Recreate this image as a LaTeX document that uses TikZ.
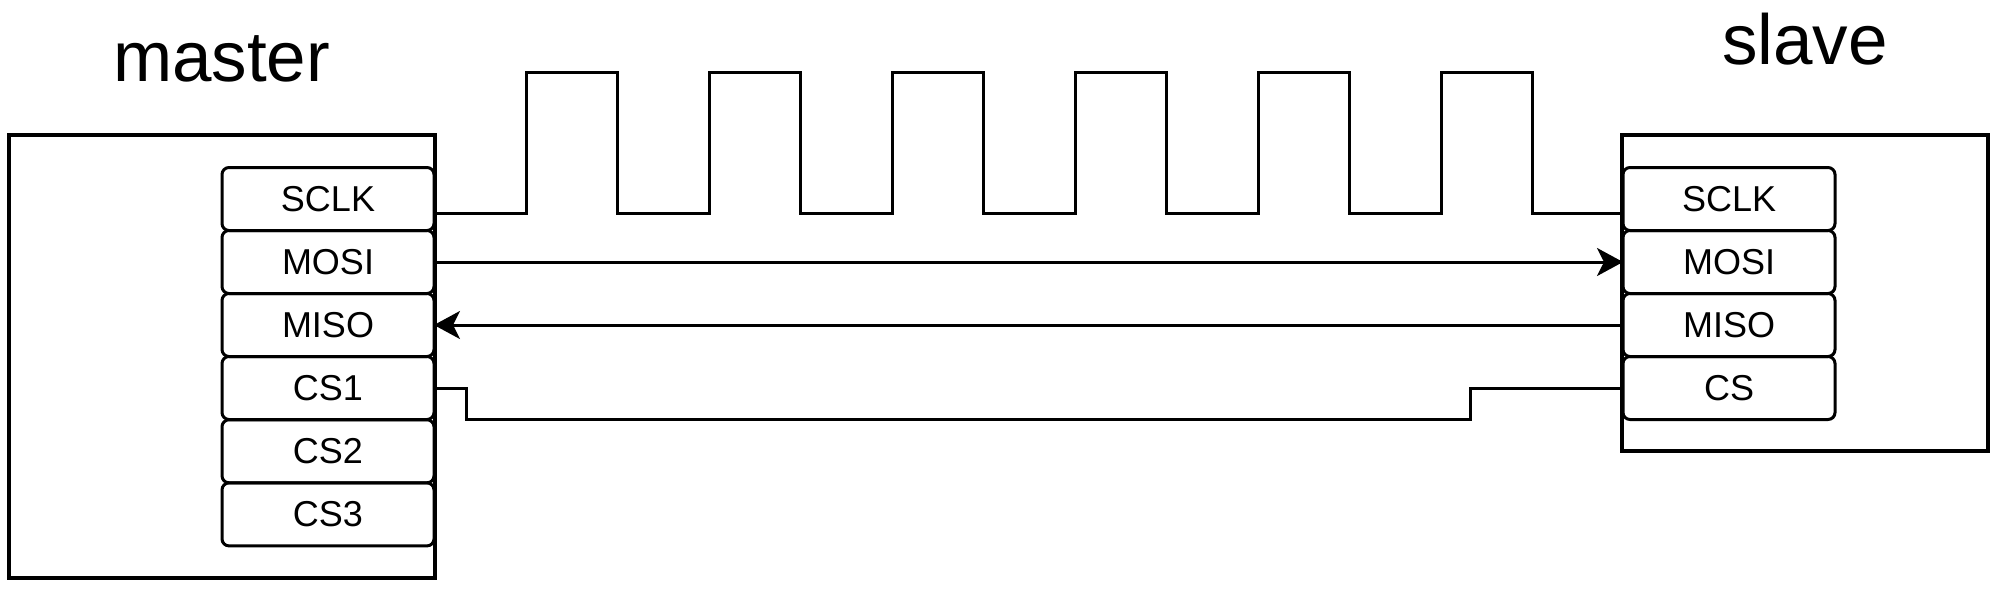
\documentclass[tikz,border=0pt]{standalone}
\usepackage{fontspec}
\setmainfont{Liberation Sans}
\usetikzlibrary{arrows.meta,calc}
\tikzset{
  chip/.style={draw=black,line width=1.6pt,rectangle,inner sep=0pt,outer sep=0pt},
  pin/.style={draw=black,line width=1.5pt,rectangle,rounded corners=3.5pt,
    minimum width=106pt,minimum height=31.5pt,inner sep=0pt,outer sep=0pt,
    font=\fontsize{18}{21.6}\selectfont},
  title/.style={anchor=base,inner sep=0pt,font=\fontsize{35.5}{42}\selectfont},
  wire/.style={draw=black,line width=1.5pt,line join=miter},
  arr/.style={wire,-{Stealth[length=13pt,width=14pt,inset=3.5pt]}}
}
\begin{document}
\begin{tikzpicture}[x=0.5pt,y=-0.5pt]
\useasboundingbox[fill=white] (0,0) rectangle (2001,591);
% chips
\node[chip,minimum width=213pt,minimum height=221.5pt] (master) at (222,356.5) {};
\node[chip,minimum width=183pt,minimum height=158pt] (slave) at (1805,293) {};
\node[title] (mt) at (221.5,81) {master};
\node[title] (st) at (1805,64) {slave};
% master pins
\node[pin] (mSCLK) at (328,199) {SCLK};
\node[pin] (mMOSI) at (328,262) {MOSI};
\node[pin] (mMISO) at (328,325) {MISO};
\node[pin] (mCS1)  at (328,388) {CS1};
\node[pin] (mCS2)  at (328,451.3) {CS2};
\node[pin] (mCS3)  at (328,514.4) {CS3};
% slave pins
\node[pin] (sSCLK) at (1729,199) {SCLK};
\node[pin] (sMOSI) at (1729,262) {MOSI};
\node[pin] (sMISO) at (1729,325) {MISO};
\node[pin] (sCS)   at (1729,388) {CS};
% clock
\coordinate (ckA) at ($(mSCLK.east)+(0,14)$);
\coordinate (ckB) at ($(sSCLK.west)+(0,14)$);
\draw[wire] (ckA) foreach \k in {0,...,5} { -- ({526+183*\k},213) -- ++(0,-141) -- ++(91,0) -- ++(0,141) } -- (ckB);
% data
\draw[arr] (mMOSI.east) -- (sMOSI.west);
\draw[arr] (sMISO.west) -- (mMISO.east);
% chip select
\coordinate (csA) at (466,419);
\coordinate (csB) at (1470,419);
\draw[wire] (mCS1.east) -| (csA) -- (csB) |- (sCS.west);
\end{tikzpicture}
\end{document}
